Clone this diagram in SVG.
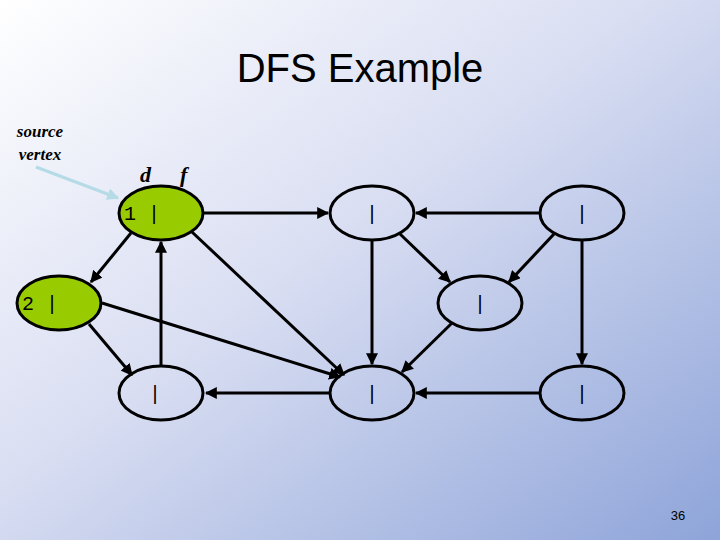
<svg xmlns="http://www.w3.org/2000/svg" width="720" height="540" viewBox="0 0 720 540">
<defs>
<linearGradient id="bg" x1="0" y1="0" x2="1" y2="1">
<stop offset="0" stop-color="#ffffff"/>
<stop offset="0.45" stop-color="#d9def2"/>
<stop offset="1" stop-color="#8ea4d9"/>
</linearGradient>
<marker id="ah" viewBox="0 0 10 10" refX="9" refY="5" markerWidth="4" markerHeight="4" orient="auto"><path d="M0,0 L10,5 L0,10 z" fill="#000"/></marker>
<marker id="ahb" viewBox="0 0 10 10" refX="9" refY="5" markerWidth="4" markerHeight="4" orient="auto"><path d="M0,0 L10,5 L0,10 z" fill="#b4dbe6"/></marker>
<style>
.n ellipse{stroke:#000;stroke-width:3;fill:none}
.g ellipse{fill:#99cc00}
.t{font-family:"Liberation Mono",monospace;font-size:20px;fill:#000}
.e line{stroke:#000;stroke-width:3;marker-end:url(#ah)}
.i{font-family:"Liberation Serif",serif;font-style:italic;font-weight:bold}
</style>
</defs>
<rect width="720" height="540" fill="url(#bg)"/>
<text x="360" y="82" text-anchor="middle" font-family="Liberation Sans,sans-serif" font-size="40">DFS Example</text>
<text class="i" x="40" y="137" text-anchor="middle" font-size="17">source</text>
<text class="i" x="40" y="160" text-anchor="middle" font-size="17">vertex</text>
<line x1="36" y1="167" x2="118" y2="198" stroke="#b4dbe6" stroke-width="3" marker-end="url(#ahb)"/>
<text class="i" x="140" y="182" font-size="22" font-weight="normal">d</text>
<text class="i" x="180" y="182" font-size="22" font-weight="normal">f</text>
<g class="e">
<line x1="204" y1="213" x2="328" y2="213"/>
<line x1="540" y1="213" x2="416" y2="213"/>
<line x1="372" y1="241" x2="372" y2="364"/>
<line x1="400" y1="234" x2="450" y2="282"/>
<line x1="554" y1="234" x2="509" y2="282"/>
<line x1="582" y1="241" x2="582" y2="364"/>
<line x1="452" y1="323" x2="402" y2="372"/>
<line x1="540" y1="393" x2="416" y2="393"/>
<line x1="329" y1="393" x2="206" y2="393"/>
<line x1="161" y1="366" x2="161" y2="242"/>
<line x1="131" y1="233" x2="91" y2="282"/>
<line x1="89" y1="324" x2="132" y2="375"/>
<line x1="102" y1="303" x2="340" y2="377"/>
<line x1="192" y1="232" x2="344" y2="375"/>
</g>
<g id="nA" class="n g"><ellipse cx="161" cy="213" rx="42" ry="27"/><text class="t" x="124" y="220">1 |</text></g>
<g id="nB" class="n"><ellipse cx="372" cy="213" rx="42" ry="27"/><text class="t" x="372" y="220" text-anchor="middle">|</text></g>
<g id="nC" class="n"><ellipse cx="582" cy="213" rx="42" ry="27"/><text class="t" x="582" y="220" text-anchor="middle">|</text></g>
<g id="nD" class="n g"><ellipse cx="59" cy="303" rx="42" ry="27"/><text class="t" x="22" y="310">2 |</text></g>
<g id="nE" class="n"><ellipse cx="480" cy="303" rx="42" ry="27"/><text class="t" x="480" y="310" text-anchor="middle">|</text></g>
<g id="nF" class="n"><ellipse cx="161" cy="393" rx="42" ry="27"/><text class="t" x="155" y="400" text-anchor="middle">|</text></g>
<g id="nG" class="n"><ellipse cx="372" cy="393" rx="42" ry="27"/><text class="t" x="372" y="400" text-anchor="middle">|</text></g>
<g id="nH" class="n"><ellipse cx="582" cy="393" rx="42" ry="27"/><text class="t" x="582" y="400" text-anchor="middle">|</text></g>
<text x="678" y="520" text-anchor="middle" font-family="Liberation Sans,sans-serif" font-size="13">36</text>
</svg>
